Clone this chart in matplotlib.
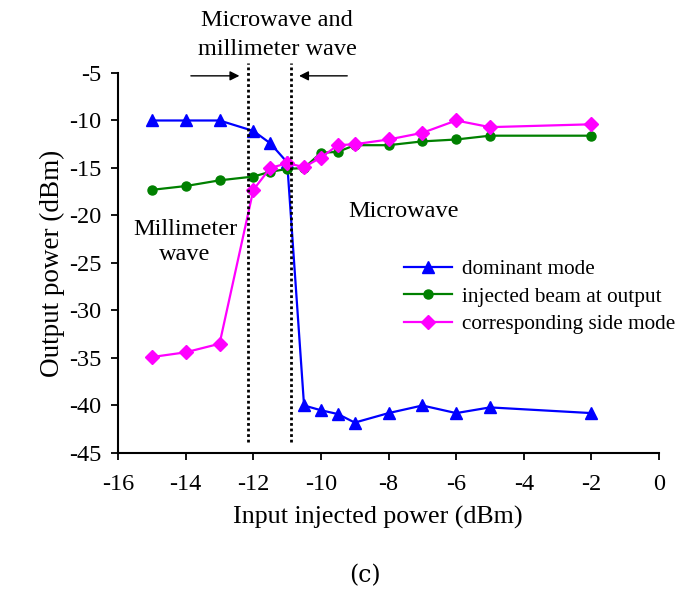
import numpy as np
import matplotlib
matplotlib.use("Agg")
import matplotlib.pyplot as plt

# input injected power (dBm)
x_pow = [-15, -14, -13, -12, -11.5, -11, -10.5, -10, -9.5, -9, -8, -7, -6, -5, -2]

# output power of each mode (dBm)
dominant = [-10.0, -10.0, -10.0, -11.1, -12.4, -14.4, -40.0, -40.5, -40.9, -41.8, -40.8, -40.0, -40.8, -40.2, -40.8]
injected = [-17.3, -16.9, -16.3, -15.9, -15.4, -15.1, -15.0, -13.4, -13.3, -12.6, -12.6, -12.2, -12.0, -11.6, -11.6]
side = [-34.9, -34.4, -33.5, -17.3, -15.0, -14.5, -14.9, -13.9, -12.6, -12.5, -12.0, -11.3, -10.0, -10.7, -10.4]

# boundaries of the mixed region
bound_lo = -12.15
bound_hi = -10.88

plt.rcParams['font.family'] = ['Liberation Serif', 'DejaVu Serif']
plt.rcParams['axes.unicode_minus'] = False

fig = plt.figure(figsize=(6.79, 5.92), dpi=100)
ax = fig.add_axes([0.174, 0.2348, 0.7965, 0.6419])

ax.plot(x_pow, dominant, color='#0000FF', lw=1.6, marker='^', ms=9, label='dominant mode')
ax.plot(x_pow, injected, color='#008000', lw=1.6, marker='o', ms=6.5, label='injected beam at output')
ax.plot(x_pow, side, color='#FF00FF', lw=1.6, marker='D', ms=7, label='corresponding side mode')

for xb in (bound_lo, bound_hi):
    ax.plot([xb, xb], [-43.8, -4.0], color='black', lw=2, linestyle=(0, (1, 1)), clip_on=False)

ax.annotate('', xy=(-12.33, -5.3), xytext=(-13.93, -5.3),
            arrowprops=dict(arrowstyle='-|>', color='black', lw=1, mutation_scale=14))
ax.annotate('', xy=(-10.73, -5.3), xytext=(-9.14, -5.3),
            arrowprops=dict(arrowstyle='-|>', color='black', lw=1, mutation_scale=14))

ax.text(-11.3, -1.0, 'Microwave and\nmillimeter wave', ha='center', va='center',
        fontsize=17.5, linespacing=1.45, clip_on=False)
ax.text(-9.2, -19.6, 'Microwave', ha='left', va='center', fontsize=17.5)
ax.text(-14.02, -22.8, 'Millimeter\nwave', ha='center', va='center',
        fontsize=17.5, linespacing=1.3)

ax.set_xlim(-16, 0)
ax.set_ylim(-45, -5)
ax.set_xticks(np.arange(-16, 1, 2))
ax.set_yticks(np.arange(-45, -4, 5))
ax.tick_params(labelsize=17.5, direction='out', length=5, width=1.3)
ax.tick_params(axis='x', pad=10)
ax.tick_params(axis='y', pad=7)
for s in ('top', 'right'):
    ax.spines[s].set_visible(False)
for s in ('left', 'bottom'):
    ax.spines[s].set_linewidth(1.5)

ax.set_xlabel('Input injected power (dBm)', fontsize=18.7, labelpad=8)
ax.xaxis.label.set_x(0.48)
ax.set_ylabel('Output power (dBm)', fontsize=19.5, labelpad=3)

ax.legend(loc='upper left', bbox_to_anchor=(0.508, 0.537), frameon=False, fontsize=15.3,
          handlelength=2.26, handletextpad=0.5, labelspacing=0.35, borderpad=0)

fig.text(0.537, 0.028, '(c)', ha='center', va='center', fontsize=17, family='DejaVu Serif')

fig.savefig('out.png', dpi=100)
